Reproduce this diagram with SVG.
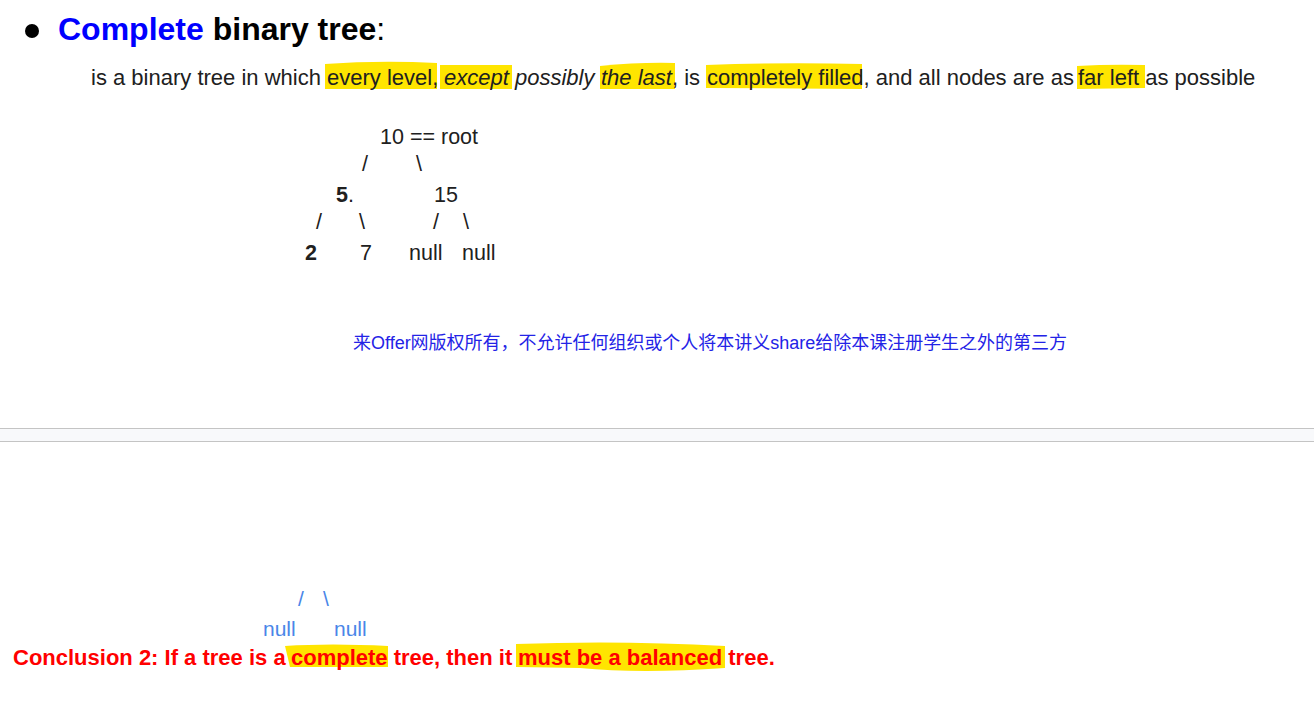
<svg xmlns="http://www.w3.org/2000/svg" width="1314" height="703" viewBox="0 0 1314 703">
<style>
.t{font-family:"Liberation Sans",Arial,sans-serif}
.hl{fill:#ffe500}
.body{font-size:22px;fill:#202020}
.tree{font-size:21.5px;fill:#202020}
.blue{font-size:21px;fill:#4a86e8}
.red{font-size:22px;font-weight:bold;fill:#ff0000}
</style>
<rect width="1314" height="703" fill="#ffffff"/>
<g id="highlights">
<path class="hl" d="M325,64 Q380,60 437,63 L437,89 L325,89 Z"/>
<rect class="hl" x="440" y="65" width="72" height="24"/>
<path class="hl" d="M600,66 Q640,62 675,63 L675,89 L600,89 Z"/>
<path class="hl" d="M706,65 Q780,62 862,64 L862,89 L706,88 Z"/>
<path class="hl" d="M1077,66 Q1110,64 1145,65 L1145,88 L1077,89 Z"/>
<path class="hl" d="M285,646 Q330,643 388,646 L388,667 L290,667 Z"/>
<path class="hl" d="M516,644 Q620,640 725,646 L725,668 Q640,674 580,668 L516,667 Z"/>
</g>
<g id="title">
<circle cx="32" cy="31" r="7" fill="#000"/>
<text class="t" x="58" y="40" font-size="32" font-weight="bold"><tspan fill="#0000ff">Complete</tspan><tspan fill="#000"> binary tree</tspan><tspan font-weight="normal" fill="#000">:</tspan></text>
</g>
<g id="definition">
<text class="t body" y="85"><tspan x="91">is a binary tree in which </tspan><tspan x="327">every level, </tspan><tspan x="444" font-style="italic">except possibly </tspan><tspan x="601" font-style="italic">the last</tspan>, is <tspan x="707">completely filled, and all nodes are as </tspan><tspan x="1078">far left as possible</tspan></text>
</g>
<g id="tree">
<text class="t tree" x="380" y="144">10 == root</text>
<text class="t tree" x="362" y="171">/</text>
<text class="t tree" x="416" y="171">\</text>
<text class="t tree" x="336" y="202"><tspan font-weight="bold">5</tspan>.</text>
<text class="t tree" x="434" y="202">15</text>
<text class="t tree" x="316" y="229">/</text>
<text class="t tree" x="359" y="229">\</text>
<text class="t tree" x="433" y="229">/</text>
<text class="t tree" x="463" y="229">\</text>
<text class="t tree" x="305" y="260" font-weight="bold">2</text>
<text class="t tree" x="360" y="260">7</text>
<text class="t tree" x="409" y="260">null</text>
<text class="t tree" x="462" y="260">null</text>
</g>
<g id="notice">
<text x="353" y="349" font-size="18" fill="#2323e6" textLength="714" lengthAdjust="spacingAndGlyphs" font-family="'Liberation Sans','Noto Sans CJK SC',sans-serif">来Offer网版权所有，不允许任何组织或个人将本讲义share给除本课注册学生之外的第三方</text>
</g>
<g id="separator">
<rect x="0" y="428" width="1314" height="13" fill="#f8f9fb"/>
<line x1="0" y1="428.5" x2="1314" y2="428.5" stroke="#c4c4c4" stroke-width="1"/>
<line x1="0" y1="441.5" x2="1314" y2="441.5" stroke="#c4c4c4" stroke-width="1"/>
</g>
<g id="bottom-tree">
<text class="t blue" x="298" y="606">/</text>
<text class="t blue" x="323" y="606">\</text>
<text class="t blue" x="263" y="636">null</text>
<text class="t blue" x="334" y="636">null</text>
</g>
<g id="conclusion">
<text class="t red" y="665"><tspan x="13">Conclusion 2: If a tree is a </tspan><tspan x="291">complete tree, then it </tspan><tspan x="518">must be a balanced tree.</tspan></text>
</g>
</svg>
